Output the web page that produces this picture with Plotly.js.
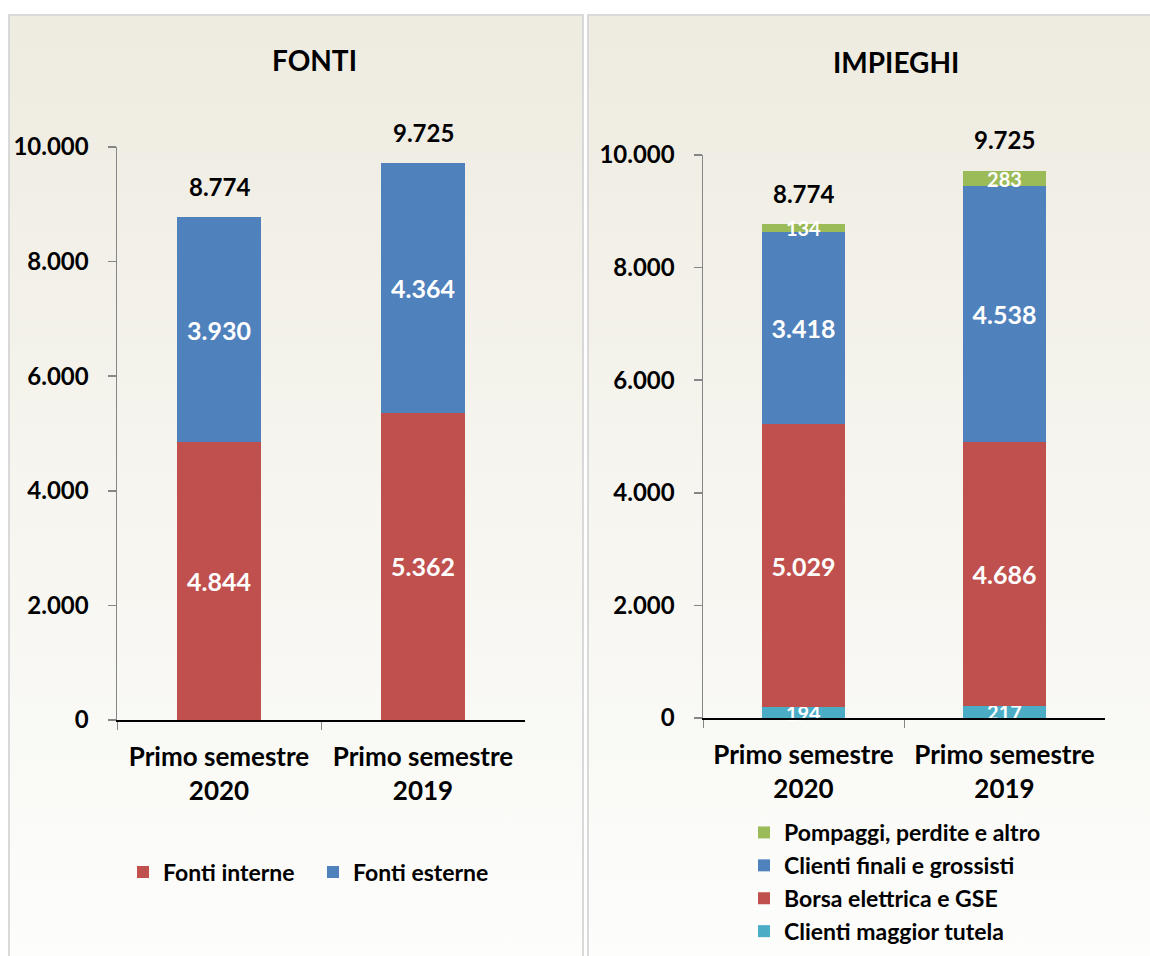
<!DOCTYPE html>
<html>
<head>
<meta charset="utf-8">
<script src="https://cdn.plot.ly/plotly-3.0.1.min.js"></script>
<style>
  html, body { margin:0; padding:0; background:#ffffff; }
  #wrap { position:relative; width:1150px; height:956px; overflow:hidden; }
  .panel { position:absolute; top:14px; height:960px; box-sizing:border-box;
           border:2px solid #d9d9d9;
           background:linear-gradient(to bottom, #eeebe0 0%, #f6f5ef 50%, #fdfdfc 100%); }
  #p1 { left:8px; width:576px; }
  #p2 { left:587px; width:580px; }
  #chart { position:absolute; left:0; top:0; width:1150px; height:956px; }
</style>
</head>
<body>
<div id="wrap">
  <div class="panel" id="p1"></div>
  <div class="panel" id="p2"></div>
  <div id="chart"></div>
</div>
<script>
// ---- data ----
const categories = ["Primo semestre<br>2020", "Primo semestre<br>2019"];

const fontiInterne = [4844, 5362];
const fontiEsterne = [3930, 4364];
const fontiTotali = [8774, 9725];

const clientiMaggiorTutela = [194, 217];
const borsaElettricaGSE = [5029, 4686];
const clientiFinaliGrossisti = [3418, 4538];
const pompaggiPerditeAltro = [134, 283];
const impieghiTotali = [8774, 9725];

const yTicks = [0, 2000, 4000, 6000, 8000, 10000];

// ---- styles ----
const FONT = "Lato, 'Open Sans', sans-serif";
const RED = "#c0504d", BLUE = "#4f81bd", GREEN = "#9bbb59", CYAN = "#4bacc6";

function fmt(n) {
  return String(Math.round(n)).replace(/\B(?=(\d{3})+(?!\d))/g, ".");
}

function barTrace(name, values, color, xa, ya, legendName, small) {
  return {
    type: "bar", name: name, x: categories, y: values,
    xaxis: xa, yaxis: ya, legend: legendName,
    marker: { color: color },
    width: 0.41,
    texttemplate: "%{y:,.0f}",
    textposition: "inside",
    insidetextanchor: "middle",
    constraintext: "none",
    textangle: 0,
    cliponaxis: false,
    textfont: { family: FONT, size: small ? 20 : 25, color: "#ffffff", weight: "bold" },
    hoverinfo: "skip"
  };
}

const data = [
  barTrace("Fonti interne", fontiInterne, RED, "x", "y", "legend", false),
  barTrace("Fonti esterne", fontiEsterne, BLUE, "x", "y", "legend", false),
  barTrace("Clienti maggior tutela", clientiMaggiorTutela, CYAN, "x2", "y2", "legend2", true),
  barTrace("Borsa elettrica e GSE", borsaElettricaGSE, RED, "x2", "y2", "legend2", false),
  barTrace("Clienti finali e grossisti", clientiFinaliGrossisti, BLUE, "x2", "y2", "legend2", false),
  barTrace("Pompaggi, perdite e altro", pompaggiPerditeAltro, GREEN, "x2", "y2", "legend2", true)
];

const W = 1150, H = 956;
function xdom(a, b) { return [a / W, b / W]; }
function ydom(bottom, top) { return [(H - bottom) / H, (H - top) / H]; }

const tickFont = { family: FONT, size: 24, color: "#000000", weight: "bold" };
const xTickFont = { family: FONT, size: 26, color: "#000000", weight: "bold" };

function xAxis(domain, anchor) {
  return {
    domain: domain, anchor: anchor, type: "category",
    showline: true, linecolor: "#000000", linewidth: 1.5,
    ticks: "outside", tickson: "boundaries", ticklen: 8, tickcolor: "#868686", tickwidth: 1,
    tickfont: xTickFont, showgrid: false, zeroline: false, fixedrange: true,
    ticklabelstandoff: 13
  };
}
function yAxis(domain, anchor) {
  return {
    domain: domain, anchor: anchor, range: [0, 10000],
    tickvals: yTicks, ticktext: yTicks.map(fmt),
    showline: true, linecolor: "#868686", linewidth: 1.5,
    ticks: "outside", ticklen: 8, tickcolor: "#868686", tickwidth: 1.5,
    tickfont: tickFont, showgrid: false, zeroline: false, fixedrange: true,
    ticklabelstandoff: 14
  };
}

const annotations = [
  { text: "<b>FONTI</b>", xref: "paper", yref: "paper", x: 315 / W, y: (H - 60) / H,
    xanchor: "center", yanchor: "middle", showarrow: false,
    font: { family: FONT, size: 28, color: "#000000" } },
  { text: "<b>IMPIEGHI</b>", xref: "paper", yref: "paper", x: 896 / W, y: (H - 62) / H,
    xanchor: "center", yanchor: "middle", showarrow: false,
    font: { family: FONT, size: 28, color: "#000000" } }
];
categories.forEach((c, i) => {
  annotations.push({ text: "<b>" + fmt(fontiTotali[i]) + "</b>", xref: "x", yref: "y",
    x: c, y: fontiTotali[i], xanchor: "center", yanchor: "bottom", yshift: 14,
    showarrow: false, font: { family: FONT, size: 24, color: "#000000" } });
  annotations.push({ text: "<b>" + fmt(impieghiTotali[i]) + "</b>", xref: "x2", yref: "y2",
    x: c, y: impieghiTotali[i], xanchor: "center", yanchor: "bottom", yshift: 14,
    showarrow: false, font: { family: FONT, size: 24, color: "#000000" } });
});

const layout = {
  width: W, height: H, autosize: false,
  margin: { l: 0, r: 0, t: 0, b: 0, pad: 0 },
  paper_bgcolor: "rgba(0,0,0,0)", plot_bgcolor: "rgba(0,0,0,0)",
  barmode: "stack",
  separators: ",.",
  font: { family: FONT, color: "#000000" },
  xaxis: xAxis(xdom(117, 525), "y"),
  yaxis: yAxis(ydom(720, 147), "x"),
  xaxis2: xAxis(xdom(703, 1105), "y2"),
  yaxis2: yAxis(ydom(718, 155), "x2"),
  legend: {
    orientation: "h", x: 123 / W, y: (H - 872) / H, xanchor: "left", yanchor: "middle",
    bgcolor: "rgba(0,0,0,0)", font: { family: FONT, size: 23, color: "#000000", weight: "bold" },
    entrywidth: 145, entrywidthmode: "pixels", traceorder: "normal"
  },
  legend2: {
    orientation: "v", x: 744 / W, y: (H - 882) / H, xanchor: "left", yanchor: "middle",
    bgcolor: "rgba(0,0,0,0)", font: { family: FONT, size: 23, color: "#000000", weight: "bold" },
    traceorder: "reversed", tracegroupgap: 0
  },
  annotations: annotations,
  showlegend: true
};

Plotly.newPlot("chart", data, layout, { displayModeBar: false, staticPlot: true });
</script>
</body>
</html>
